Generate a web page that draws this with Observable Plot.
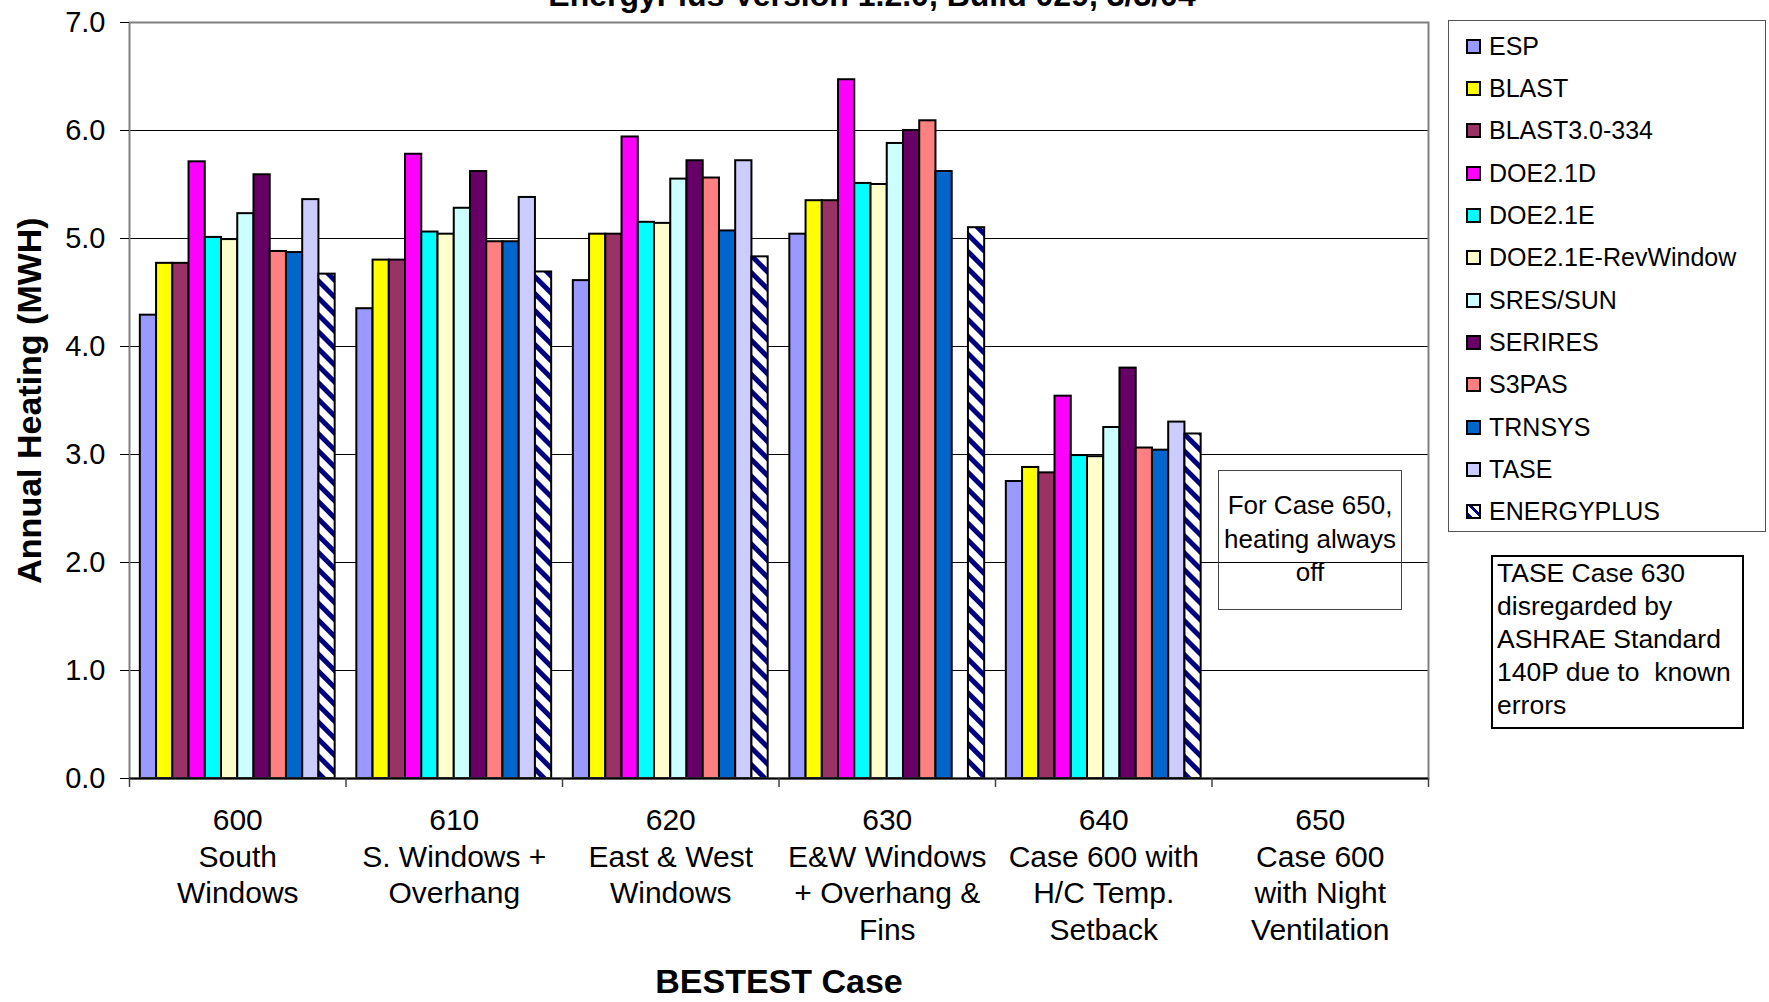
<!DOCTYPE html>
<html>
<head>
<meta charset="utf-8">
<script src="https://cdn.jsdelivr.net/npm/d3@7"></script>
<script src="https://cdn.jsdelivr.net/npm/@observablehq/plot@0.6"></script>
<style>
  body { margin: 0; background: #fff; font-family: "Liberation Sans", Arial, sans-serif; }
  #wrap { position: relative; width: 1769px; height: 1002px; overflow: hidden; background: #fff; }
  #wrap svg { position: absolute; left: 0; top: 0; }
  .title { position: absolute; left: 0; width: 1744px; top: -21px; text-align: center;
           font-weight: bold; font-size: 32px; line-height: 32px; color: #000; white-space: nowrap; }
  .legend { position: absolute; left: 1448px; top: 20px; width: 318px; height: 512px;
            box-sizing: border-box; border: 1px solid #555; padding-top: 4px; }
  .item { height: 42.35px; display: flex; align-items: center; font-size: 25px; color: #000; white-space: nowrap; }
  .sw { width: 15px; height: 15px; box-sizing: border-box; border: 2px solid #000; margin-left: 17px; margin-right: 8px; flex: none; }
  .note650 { position: absolute; left: 1218px; top: 470px; width: 184px; height: 140px; box-sizing: border-box;
             border: 1px solid #444; text-align: center; font-size: 26px; line-height: 33.5px; padding-top: 18px; color: #000; }
  .noteTase { position: absolute; left: 1491px; top: 555px; width: 253px; height: 174px; box-sizing: border-box;
              border: 2px solid #000; font-size: 26.5px; line-height: 33px; padding-left: 4px; padding-top: 0px;
              white-space: pre; color: #000; }
</style>
</head>
<body>
<div id="wrap"></div>
<script>
// ---- data ----
const chartTitle = "EnergyPlus Version 1.2.0, Build 029, 3/3/04";
const yAxisTitle = "Annual Heating (MWH)";
const xAxisTitle = "BESTEST Case";
const cases = ["600", "610", "620", "630", "640", "650"];
const caseDescriptions = [
  "South\nWindows",
  "S. Windows +\nOverhang",
  "East & West\nWindows",
  "E&W Windows\n+ Overhang &\nFins",
  "Case 600 with\nH/C Temp.\nSetback",
  "Case 600\nwith Night\nVentilation"
];
const models = ["ESP", "BLAST", "BLAST3.0-334", "DOE2.1D", "DOE2.1E", "DOE2.1E-RevWindow",
                "SRES/SUN", "SERIRES", "S3PAS", "TRNSYS", "TASE", "ENERGYPLUS"];
const modelColors = ["#9999FF", "#FFFF00", "#993366", "#FF00FF", "#00FFFF", "#FFFFCC",
                     "#CCFFFF", "#660066", "#FF8080", "#0066CC", "#CCCCFF", "url(#ep-stripes)"];
const espValues        = [4.29, 4.35, 4.61, 5.04, 2.75, null];
const blastValues      = [4.77, 4.80, 5.04, 5.35, 2.88, null];
const blast3Values     = [4.77, 4.80, 5.04, 5.35, 2.83, null];
const doe21dValues     = [5.71, 5.78, 5.94, 6.47, 3.54, null];
const doe21eValues     = [5.01, 5.06, 5.15, 5.51, 2.99, null];
const doe21eRevValues  = [4.99, 5.04, 5.14, 5.50, 2.98, null];
const sresSunValues    = [5.23, 5.28, 5.55, 5.88, 3.25, null];
const seriresValues    = [5.59, 5.62, 5.72, 6.00, 3.80, null];
const s3pasValues      = [4.88, 4.97, 5.56, 6.09, 3.06, null];
const trnsysValues     = [4.87, 4.97, 5.07, 5.62, 3.04, null];
const taseValues       = [5.36, 5.38, 5.72, null, 3.30, null];
const energyPlusValues = [4.67, 4.69, 4.83, 5.10, 3.19, null];
const yTicks = [0, 1, 2, 3, 4, 5, 6, 7];
const note650Lines = ["For Case 650,", "heating always", "off"];
const noteTaseLines = ["TASE Case 630", "disregarded by", "ASHRAE Standard", "140P due to  known", "errors"];

// ---- build table ----
const seriesValues = [espValues, blastValues, blast3Values, doe21dValues, doe21eValues, doe21eRevValues,
                      sresSunValues, seriresValues, s3pasValues, trnsysValues, taseValues, energyPlusValues];
const rows = [];
models.forEach((model, mi) => {
  seriesValues[mi].forEach((value, ci) => {
    if (value != null) rows.push({model, modelIndex: mi, caseIndex: ci, value});
  });
});

const groupPad = 0.05;
const barStep = (1 - 2 * groupPad) / models.length;
const font = "'Liberation Sans', Arial, sans-serif";

const chart = Plot.plot({
  width: 1769,
  height: 1002,
  marginLeft: 129,
  marginRight: 341,
  marginTop: 22,
  marginBottom: 224,
  style: {fontFamily: font, background: "white", color: "black"},
  x: {type: "linear", domain: [0, cases.length]},
  y: {domain: [0, 7]},
  color: {type: "ordinal", domain: models, range: modelColors},
  marks: [
    Plot.ruleY(yTicks.slice(1, -1), {stroke: "black", strokeWidth: 1}),
    Plot.rectY(rows, {
      x1: d => d.caseIndex + groupPad + d.modelIndex * barStep,
      x2: d => d.caseIndex + groupPad + (d.modelIndex + 1) * barStep,
      y1: 0,
      y2: "value",
      fill: "model",
      stroke: "black",
      strokeWidth: 2
    }),
    Plot.frame({stroke: "#808080", strokeWidth: 2}),
    Plot.ruleY([0], {stroke: "black", strokeWidth: 2}),
    Plot.axisY({ticks: yTicks, tickSize: 9, tickPadding: 15, tickFormat: d3.format(".1f"),
                fontSize: 29, label: null}),
    Plot.axisX({ticks: d3.range(cases.length + 1), tickSize: 9, tickFormat: () => "", label: null,
                stroke: "#404040", strokeWidth: 1.5}),
    Plot.text(cases, {
      x: (d, i) => i + 0.5,
      text: (d, i) => d + "\n" + caseDescriptions[i],
      frameAnchor: "bottom",
      lineAnchor: "top",
      dy: 25,
      fontSize: 30,
      lineHeight: 1.23
    }),
    Plot.text([yAxisTitle], {frameAnchor: "left", rotate: -90, dx: -99, lineAnchor: "middle",
                             textAnchor: "middle", fontSize: 34, fontWeight: "bold"}),
    Plot.text([xAxisTitle], {frameAnchor: "bottom", dy: 204, lineAnchor: "middle",
                             textAnchor: "middle", fontSize: 34, fontWeight: "bold"})
  ]
});

// stripe pattern for ENERGYPLUS
const defs = d3.select(chart).insert("defs", ":first-child");
const pat = defs.append("pattern")
  .attr("id", "ep-stripes")
  .attr("patternUnits", "userSpaceOnUse")
  .attr("width", 12).attr("height", 12)
  .attr("patternTransform", "rotate(-45)");
pat.append("rect").attr("width", 12).attr("height", 12).attr("fill", "white");
pat.append("rect").attr("width", 5).attr("height", 12).attr("fill", "#000080");

const wrap = document.getElementById("wrap");
wrap.appendChild(chart);

// title
const title = document.createElement("div");
title.className = "title";
title.textContent = chartTitle;
wrap.appendChild(title);

// legend
const legend = document.createElement("div");
legend.className = "legend";
models.forEach((m, i) => {
  const item = document.createElement("div");
  item.className = "item";
  const sw = document.createElement("span");
  sw.className = "sw";
  const c = modelColors[i];
  sw.style.background = c.startsWith("url(")
    ? "repeating-linear-gradient(45deg, #000080 0px, #000080 3px, #ffffff 3px, #ffffff 8px)"
    : c;
  const label = document.createElement("span");
  label.textContent = m;
  item.appendChild(sw);
  item.appendChild(label);
  legend.appendChild(item);
});
wrap.appendChild(legend);

// notes
const n650 = document.createElement("div");
n650.className = "note650";
n650.innerHTML = note650Lines.map(s => s.replace(/&/g, "&amp;")).join("<br>");
wrap.appendChild(n650);

const nTase = document.createElement("div");
nTase.className = "noteTase";
nTase.textContent = noteTaseLines.join("\n");
wrap.appendChild(nTase);
</script>
</body>
</html>
